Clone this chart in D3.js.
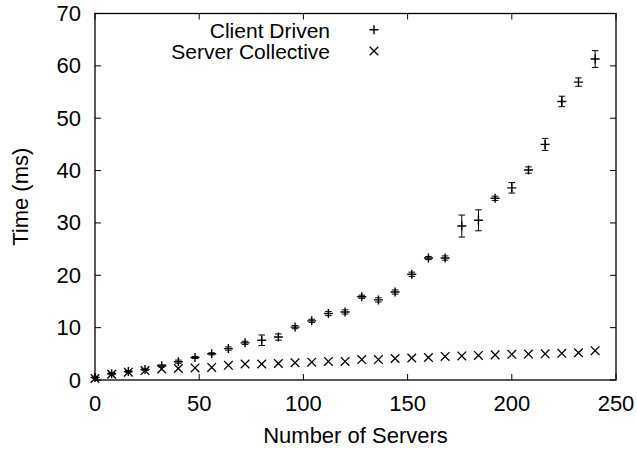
<!DOCTYPE html>
<html>
<head>
<meta charset="utf-8">
<script src="https://cdn.jsdelivr.net/npm/d3@7"></script>
<style>
  html, body { margin: 0; padding: 0; background: #fff; }
  svg { display: block; }
  text { font-family: "Liberation Sans", Arial, Helvetica, sans-serif; fill: #000; }
</style>
</head>
<body>
<svg id="chart" width="637" height="449"></svg>
<script>
// ---- data ----
const servers = [0, 8, 16, 24, 32, 40, 48, 56, 64, 72, 80, 88, 96, 104, 112, 120, 128, 136, 144, 152, 160, 168, 176, 184, 192, 200, 208, 216, 224, 232, 240];
const clientDriven = [0.5, 1.2, 1.6, 2.0, 2.7, 3.5, 4.3, 5.0, 6.0, 7.1, 7.6, 8.2, 10.1, 11.3, 12.7, 13.0, 15.9, 15.3, 16.8, 20.2, 23.3, 23.3, 29.4, 30.5, 34.7, 36.7, 40.1, 45.0, 53.2, 56.9, 61.3];
const clientDrivenErr = [0.2, 0.2, 0.2, 0.2, 0.2, 0.3, 0.2, 0.2, 0.3, 0.3, 1.0, 0.6, 0.3, 0.3, 0.4, 0.4, 0.3, 0.4, 0.4, 0.4, 0.3, 0.4, 2.1, 2.0, 0.4, 1.0, 0.6, 1.15, 1.0, 0.8, 1.6];
const serverCollective = [0.3, 1.1, 1.5, 1.8, 2.1, 2.2, 2.3, 2.4, 2.8, 3.05, 3.05, 3.15, 3.3, 3.4, 3.55, 3.55, 3.9, 3.9, 4.1, 4.2, 4.3, 4.5, 4.6, 4.7, 4.8, 4.9, 4.95, 5.0, 5.1, 5.2, 5.6];
const xTicks = [0, 50, 100, 150, 200, 250];
const yTicks = [0, 10, 20, 30, 40, 50, 60, 70];
const seriesNames = ["Client Driven", "Server Collective"];
const xTitle = "Number of Servers";
const yTitle = "Time (ms)";

// ---- layout ----
const svg = d3.select("#chart");
const L = 95, R = 616, T = 13.5, B = 380;
const x = d3.scaleLinear().domain([0, 250]).range([L, R]);
const y = d3.scaleLinear().domain([0, 70]).range([B, T]);
const FS = 22;
const LFS = 21;
const TL = 6;

// ticks (mirrored, inward)
const tickG = svg.append("g").attr("stroke", "#000").attr("stroke-width", 1);
xTicks.forEach(v => {
  tickG.append("line").attr("x1", x(v)).attr("x2", x(v)).attr("y1", B).attr("y2", B - TL);
  tickG.append("line").attr("x1", x(v)).attr("x2", x(v)).attr("y1", T).attr("y2", T + TL);
});
yTicks.forEach(v => {
  tickG.append("line").attr("x1", L).attr("x2", L + TL).attr("y1", y(v)).attr("y2", y(v));
  tickG.append("line").attr("x1", R).attr("x2", R - TL).attr("y1", y(v)).attr("y2", y(v));
});

// border
svg.append("rect").attr("x", L).attr("y", T).attr("width", R - L).attr("height", B - T)
  .attr("fill", "none").attr("stroke", "#000").attr("stroke-width", 1.3);

// tick labels
svg.append("g").selectAll("text").data(xTicks).join("text")
  .attr("x", d => x(d)).attr("y", 411).attr("text-anchor", "middle")
  .attr("font-size", FS).text(d => d);
svg.append("g").selectAll("text").data(yTicks).join("text")
  .attr("x", 81).attr("y", d => y(d) + 7.5).attr("text-anchor", "end")
  .attr("font-size", FS).text(d => d);

// axis titles
svg.append("text").attr("x", (L + R) / 2).attr("y", 443).attr("text-anchor", "middle")
  .attr("font-size", FS).text(xTitle);
svg.append("text").attr("transform", `translate(28,${(T + B) / 2}) rotate(-90)`)
  .attr("text-anchor", "middle").attr("font-size", FS).text(yTitle);

// marker paths
const plusPath = (cx, cy, s) => `M${cx - s},${cy}H${cx + s}M${cx},${cy - s}V${cy + s}`;
const crossPath = (cx, cy, s) => `M${cx - s},${cy - s}L${cx + s},${cy + s}M${cx - s},${cy + s}L${cx + s},${cy - s}`;

// error bars for client driven
const eb = svg.append("g").attr("stroke", "#000").attr("stroke-width", 1).attr("fill", "none");
servers.forEach((s, i) => {
  const cx = x(s), lo = y(clientDriven[i] - clientDrivenErr[i]), hi = y(clientDriven[i] + clientDrivenErr[i]);
  eb.append("path").attr("d", `M${cx},${lo}V${hi}M${cx - 3.3},${lo}H${cx + 3.3}M${cx - 3.3},${hi}H${cx + 3.3}`);
});

// client driven points (+)
svg.append("g").attr("stroke", "#000").attr("stroke-width", 1.4).attr("fill", "none")
  .selectAll("path").data(servers).join("path")
  .attr("d", (d, i) => plusPath(x(d), y(clientDriven[i]), 4.5));

// server collective points (x)
svg.append("g").attr("stroke", "#000").attr("stroke-width", 1.3).attr("fill", "none")
  .selectAll("path").data(servers).join("path")
  .attr("d", (d, i) => crossPath(x(d), y(serverCollective[i]), 4.3));

// legend
const lg = svg.append("g");
lg.append("text").attr("x", 330).attr("y", 37.5).attr("text-anchor", "end").attr("font-size", LFS).text(seriesNames[0]);
lg.append("text").attr("x", 330).attr("y", 58.5).attr("text-anchor", "end").attr("font-size", LFS).text(seriesNames[1]);
lg.append("path").attr("d", plusPath(374, 29.7, 4.5)).attr("stroke", "#000").attr("stroke-width", 1.4);
lg.append("path").attr("d", crossPath(374, 51, 4.3)).attr("stroke", "#000").attr("stroke-width", 1.3);
</script>
</body>
</html>
